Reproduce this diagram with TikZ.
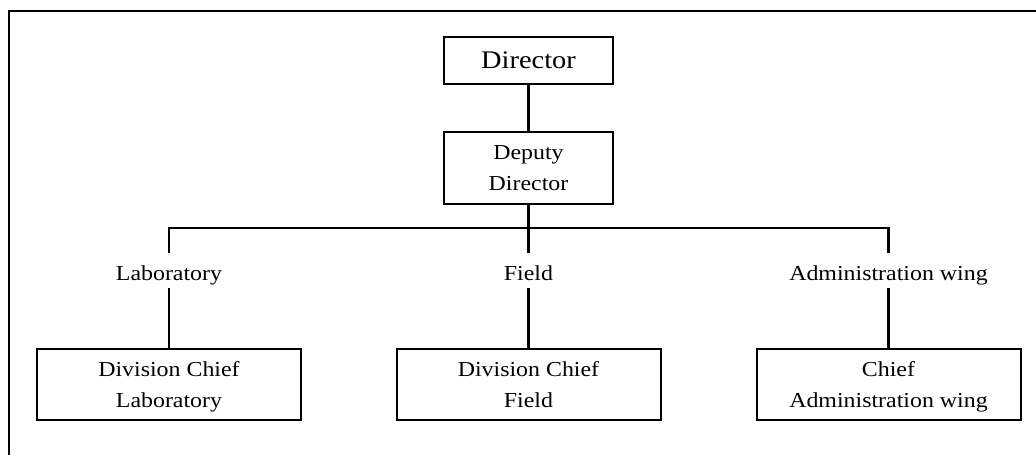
\documentclass[tikz,border=0pt]{standalone}
\usepackage{fontspec}
\setmainfont{Liberation Serif}[FakeStretch=1.12]
\begin{document}
\begin{tikzpicture}[x=0.75pt,y=-0.75pt,
  box/.style={draw,line width=1.5pt,inner sep=0pt,align=center,font=\fontsize{16}{23}\selectfont},
  lbl/.style={inner sep=0pt,text height=20.8pt,text depth=5.5pt,font=\fontsize{16}{23}\selectfont},
  conn/.style={line width=1.6pt}]
\useasboundingbox (0,0) rectangle (1036,455);
\draw[line width=1.6pt] (9,455) -- (9,11) -- (1036,11);
\node[box,minimum width=126.75pt,minimum height=35.25pt,text depth=-3pt,font=\fontsize{19}{23}\selectfont] (dir) at (528.5,60.5) {Director};
\node[box,minimum width=126.75pt,minimum height=54pt,text depth=-2pt] (dep) at (528.5,168) {Deputy\\Director};
\node[lbl] (lab) at (169,270.5) {Laboratory};
\node[lbl] (fld) at (528.5,270.5) {Field};
\node[lbl] (adm) at (888.5,270.5) {Administration wing};
\node[box,minimum width=198pt,minimum height=53.25pt,text depth=0pt] (labc) at (169,384.5) {Division Chief\\Laboratory};
\node[box,minimum width=198pt,minimum height=53.25pt,text depth=0pt] (fldc) at (528.5,384.5) {Division Chief\\Field};
\node[box,minimum width=198pt,minimum height=53.25pt,text depth=0pt] (admc) at (888.5,384.5) {Chief\\Administration wing};
\coordinate (bar) at (528.5,228);
\draw[conn] (dir.south) -- (dep.north);
\draw[conn] (dep.south) -- (bar);
\draw[conn] (lab.north) -- (lab.north |- bar) -- (adm.north |- bar) -- (adm.north);
\draw[conn] (fld.north) -- (fld.north |- bar);
\draw[conn] (lab.south) -- (labc.north);
\draw[conn] (fld.south) -- (fldc.north);
\draw[conn] (adm.south) -- (admc.north);
\end{tikzpicture}
\end{document}
